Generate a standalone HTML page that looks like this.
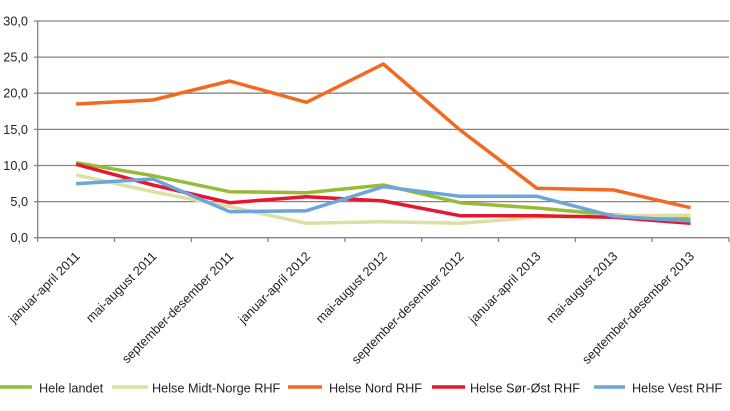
<!DOCTYPE html>
<html>
<head>
<meta charset="utf-8">
<style>
  html, body { margin: 0; padding: 0; background: #ffffff; }
  body { width: 730px; height: 411px; overflow: hidden; }
  svg { display: block; font-family: "Liberation Sans", Arial, sans-serif; }
  text { fill: #222222; font-size: 12.7px; }
</style>
</head>
<body>
<svg width="730" height="411" viewBox="0 0 730 411" xmlns="http://www.w3.org/2000/svg">
  <!-- gridlines -->
  <g stroke="#858585" stroke-width="1.3" fill="none">
    <line x1="34" y1="21" x2="729" y2="21"/>
    <line x1="34" y1="57.1" x2="729" y2="57.1"/>
    <line x1="34" y1="93.2" x2="729" y2="93.2"/>
    <line x1="34" y1="129.4" x2="729" y2="129.4"/>
    <line x1="34" y1="165.5" x2="729" y2="165.5"/>
    <line x1="34" y1="201.6" x2="729" y2="201.6"/>
    <line x1="34" y1="237.7" x2="729" y2="237.7"/>
    <!-- y axis -->
    <line x1="37.7" y1="21" x2="37.7" y2="238"/>
    <!-- x ticks -->
    <line x1="37.7" y1="237.7" x2="37.7" y2="242"/>
    <line x1="114.5" y1="237.7" x2="114.5" y2="242"/>
    <line x1="191.3" y1="237.7" x2="191.3" y2="242"/>
    <line x1="268.1" y1="237.7" x2="268.1" y2="242"/>
    <line x1="344.9" y1="237.7" x2="344.9" y2="242"/>
    <line x1="421.7" y1="237.7" x2="421.7" y2="242"/>
    <line x1="498.5" y1="237.7" x2="498.5" y2="242"/>
    <line x1="575.3" y1="237.7" x2="575.3" y2="242"/>
    <line x1="652.1" y1="237.7" x2="652.1" y2="242"/>
    <line x1="728.9" y1="237.7" x2="728.9" y2="242"/>
  </g>

  <!-- y labels -->
  <g text-anchor="end">
    <text x="28" y="25.5">30,0</text>
    <text x="28" y="61.6">25,0</text>
    <text x="28" y="97.7">20,0</text>
    <text x="28" y="133.9">15,0</text>
    <text x="28" y="170">10,0</text>
    <text x="28" y="206.1">5,0</text>
    <text x="28" y="242.2">0,0</text>
  </g>

  <!-- x labels -->
  <g text-anchor="end">
    <text transform="translate(80.6,257) rotate(-45)">januar-april 2011</text>
    <text transform="translate(157.4,257) rotate(-45)">mai-august 2011</text>
    <text transform="translate(234.2,257) rotate(-45)">september-desember 2011</text>
    <text transform="translate(311,257) rotate(-45)">januar-april 2012</text>
    <text transform="translate(387.8,257) rotate(-45)">mai-august 2012</text>
    <text transform="translate(464.6,257) rotate(-45)">september-desember 2012</text>
    <text transform="translate(541.4,257) rotate(-45)">januar-april 2013</text>
    <text transform="translate(618.2,257) rotate(-45)">mai-august 2013</text>
    <text transform="translate(695,257) rotate(-45)">september-desember 2013</text>
  </g>

  <!-- series -->
  <g fill="none" stroke-width="3.5" stroke-linejoin="round" stroke-linecap="butt">
    <polyline stroke="#96BB35" points="76.1,162.7 152.9,175.7 229.7,191.7 306.5,192.8 383.3,185 460.1,202.7 536.9,208 613.7,215 690.5,219"/>
    <polyline stroke="#DCE0A2" points="76.1,175 152.9,191.7 229.7,206.7 306.5,223.3 383.3,221.7 460.1,223.3 536.9,217.3 613.7,215.7 690.5,215.3"/>
    <polyline stroke="#F26A21" points="76.1,104 152.9,100 229.7,81 306.5,102.3 383.3,64 460.1,130 536.9,188.3 613.7,190 690.5,207.7"/>
    <polyline stroke="#E6162E" points="76.1,164.3 152.9,185 229.7,202.7 306.5,196.7 383.3,201 460.1,215.7 536.9,215.7 613.7,217.3 690.5,223.3"/>
    <polyline stroke="#6BA5DB" points="76.1,183.7 152.9,179 229.7,211.7 306.5,210.7 383.3,186.7 460.1,196.3 536.9,196.3 613.7,216.3 690.5,221"/>
  </g>

  <!-- legend -->
  <g stroke-width="3.5">
    <line x1="0" y1="387" x2="32" y2="387" stroke="#96BB35"/>
    <line x1="112" y1="387" x2="148" y2="387" stroke="#DCE0A2"/>
    <line x1="288" y1="387" x2="322" y2="387" stroke="#F26A21"/>
    <line x1="432" y1="387" x2="465" y2="387" stroke="#E6162E"/>
    <line x1="594" y1="387" x2="625" y2="387" stroke="#6BA5DB"/>
  </g>
  <text x="39" y="392.5">Hele landet</text>
  <text x="152" y="392.5">Helse Midt-Norge RHF</text>
  <text x="329" y="392.5">Helse Nord RHF</text>
  <text x="470" y="392.5">Helse Sør-Øst RHF</text>
  <text x="632" y="392.5">Helse Vest RHF</text>
</svg>
</body>
</html>
